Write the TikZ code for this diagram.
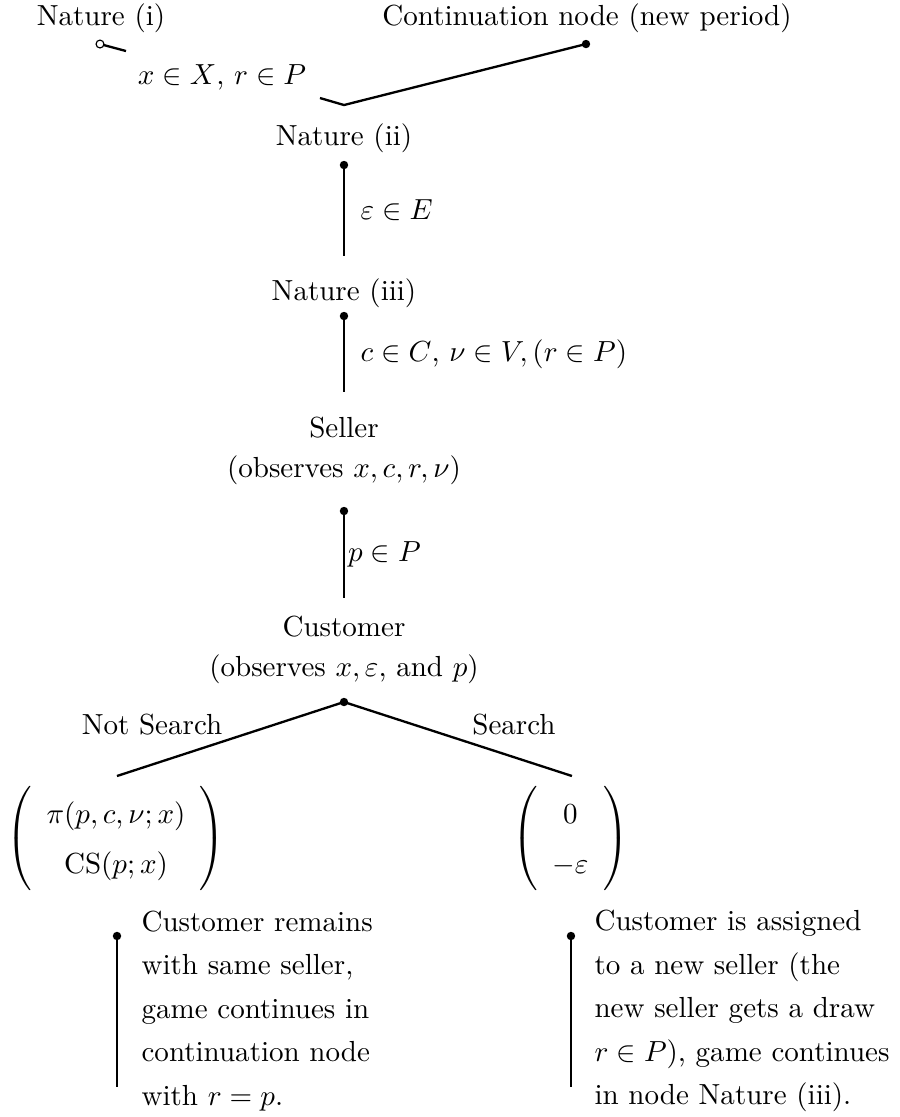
\documentclass[tikz,border=0pt]{standalone}
\usepackage{amsmath}
\renewcommand{\arraystretch}{1.25}
\begin{document}
\begin{tikzpicture}[scale=0.968, >=stealth,
    every node/.style={font=\fontsize{10}{13.6}\selectfont},
    note/.style={align=left, anchor=west, inner sep=0pt, font=\fontsize{10}{15}\selectfont}]
    \useasboundingbox (0,0) rectangle (11.2375,13.9625);

    % first period
    \node (nat1) at (1.2625,13.7375) {Nature (i)};
    \node (cont) at (7.3375,13.7375) {Continuation node (new period)};
    \coordinate (o1) at (1.25,13.4125);
    \coordinate (o1e) at (1.575,13.325);
    \coordinate (k1) at (4.0,12.7375);
    \coordinate (k2) at (4.3,12.65);
    \coordinate (c0) at (7.325,13.4125);
    \draw[thick] (o1) -- (o1e);
    \draw[thick] (k1) -- (k2) -- (c0);
    \draw[fill=white] (o1) circle (1.4pt);
    \fill (c0) circle (1.5pt);
    \node (xr) at (2.775,13.0) {$x\in X$, $r\in P$};

    \node (nat2) at (4.3,12.2375) {Nature (ii)};
    \coordinate (n2) at (4.3,11.9);
    \coordinate (n2e) at (4.3,10.7625);
    \draw[thick] (n2) -- (n2e) node[midway, right=2pt] (l2) {$\varepsilon\in E$};
    \fill (n2) circle (1.5pt);

    \node (nat3) at (4.3,10.3) {Nature (iii)};
    \coordinate (n3) at (4.3,10.0125);
    \coordinate (n3e) at (4.3,9.0625);
    \draw[thick] (n3) -- (n3e) node[midway, right=2pt] (l3) {$c\in C$, $\nu\in V, (r\in P)$};
    \fill (n3) circle (1.5pt);

    \node[align=center] (sel) at (4.3,8.325) {Seller\\(observes $x,c,r,\nu$)};
    \coordinate (s) at (4.3,7.575);
    \coordinate (se) at (4.3,6.4875);
    \draw[thick] (s) -- (se) node[midway, right, inner sep=1pt] (ls) {$p\in P$};
    \fill (s) circle (1.5pt);

    \node[align=center] (cust) at (4.3,5.8375) {Customer\\(observes $x,\varepsilon$, and $p$)};
    \coordinate (c) at (4.3,5.1875);
    \coordinate (cl) at (1.4625,4.2625);
    \coordinate (cr) at (7.15,4.2625);
    \draw[thick] (cl) -- (c) -- (cr);
    \fill (c) circle (1.5pt);
    \node (ns) at (1.9,4.9) {Not Search};
    \node (sr) at (6.425,4.9) {Search};

    % payoffs
    \node (pay1) at (1.45,3.48)
        {$\left(\begin{array}{c}\pi(p,c,\nu;x)\\ \mathrm{CS}(p;x)\end{array}\right)$};
    \node (pay2) at (7.13,3.48)
        {$\left(\begin{array}{c}0\\ -\varepsilon\end{array}\right)$};

    % what happens next
    \coordinate (t1) at (1.4625,2.2625);
    \coordinate (t1e) at (1.4625,0.375);
    \draw[thick] (t1) -- (t1e);
    \fill (t1) circle (1.5pt);
    \node[note] (txt1) at (1.7625,1.325) {Customer remains\\with same seller,\\game continues in\\continuation node\\with $r=p$.};

    \coordinate (t2) at (7.1375,2.2625);
    \coordinate (t2e) at (7.1375,0.375);
    \draw[thick] (t2) -- (t2e);
    \fill (t2) circle (1.5pt);
    \node[note] (txt2) at (7.425,1.325) {Customer is assigned\\to a new seller (the\\new seller gets a draw\\$r\in P$), game continues\\in node Nature (iii).};
\end{tikzpicture}
\end{document}
